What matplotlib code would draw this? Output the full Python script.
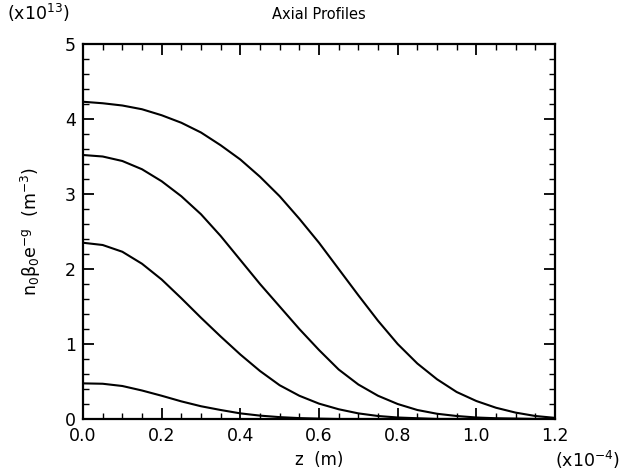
import matplotlib
matplotlib.use("Agg")
import matplotlib.pyplot as plt
from matplotlib.ticker import MultipleLocator, FormatStrFormatter

# z positions (units of 1e-4 m)
z = [0.0, 0.05, 0.1, 0.15, 0.2, 0.25, 0.3, 0.35, 0.4, 0.45, 0.5, 0.55, 0.6,
     0.65, 0.7, 0.75, 0.8, 0.85, 0.9, 0.95, 1.0, 1.05, 1.1, 1.15, 1.2]

# profiles (units of 1e13 m^-3)
profile_1 = [4.23, 4.21, 4.18, 4.13, 4.05, 3.95, 3.82, 3.65, 3.46, 3.23, 2.97, 2.67, 2.35,
             2.00, 1.65, 1.31, 1.00, 0.74, 0.53, 0.36, 0.24, 0.15, 0.085, 0.04, 0.015]
profile_2 = [3.52, 3.50, 3.44, 3.33, 3.17, 2.97, 2.73, 2.44, 2.12, 1.80, 1.50, 1.20, 0.92,
             0.66, 0.46, 0.31, 0.20, 0.12, 0.07, 0.04, 0.02, 0.01, 0.005, 0.0, 0.0]
profile_3 = [2.35, 2.32, 2.23, 2.07, 1.86, 1.61, 1.35, 1.10, 0.86, 0.64, 0.45, 0.31, 0.205,
             0.13, 0.075, 0.04, 0.02, 0.01, 0.0, 0.0, 0.0, 0.0, 0.0, 0.0, 0.0]
profile_4 = [0.475, 0.47, 0.44, 0.38, 0.31, 0.235, 0.17, 0.12, 0.075, 0.045, 0.025, 0.012, 0.005,
             0.0, 0.0, 0.0, 0.0, 0.0, 0.0, 0.0, 0.0, 0.0, 0.0, 0.0, 0.0]

x_ticks = [0.0, 0.2, 0.4, 0.6, 0.8, 1.0, 1.2]
y_ticks = [0, 1, 2, 3, 4, 5]

fig = plt.figure(figsize=(6.21, 4.72), dpi=100)
ax = fig.add_axes([83/621, 53/472, 472/621, 375/472])

for p in (profile_1, profile_2, profile_3, profile_4):
    ax.plot(z, p, color="black", lw=1.5, solid_joinstyle="round")

ax.set_xlim(0, 1.2)
ax.set_ylim(0, 5)
ax.set_xticks(x_ticks)
ax.set_yticks(y_ticks)
ax.xaxis.set_major_formatter(FormatStrFormatter("%.1f"))
ax.xaxis.set_minor_locator(MultipleLocator(0.05))
ax.yaxis.set_minor_locator(MultipleLocator(0.2))
ax.tick_params(which="both", direction="in", top=True, right=True, labelsize=12.5)
ax.tick_params(axis="x", which="major", pad=6)
ax.tick_params(axis="y", which="major", pad=5)
ax.tick_params(which="major", length=8, width=1.3)
ax.tick_params(which="minor", length=4, width=1.0)
for s in ax.spines.values():
    s.set_linewidth(1.6)

ax.set_title("Axial Profiles", fontsize=10.5, pad=18)
ax.set_xlabel("z  (m)", fontsize=12, labelpad=4)
ax.set_ylabel(r"$\mathregular{n_0\beta_0e^{-g}\ \ (m^{-3})}$", fontsize=12.5, labelpad=16)
fig.text(7/621, 1 - 13/472, r"$\mathregular{(x10^{13})}$", fontsize=12.5, ha="left", va="center")
fig.text(620/621, 1 - 460/472, r"$\mathregular{(x10^{-4})}$", fontsize=12.5, ha="right", va="center")

fig.savefig("out.png", dpi=100)
